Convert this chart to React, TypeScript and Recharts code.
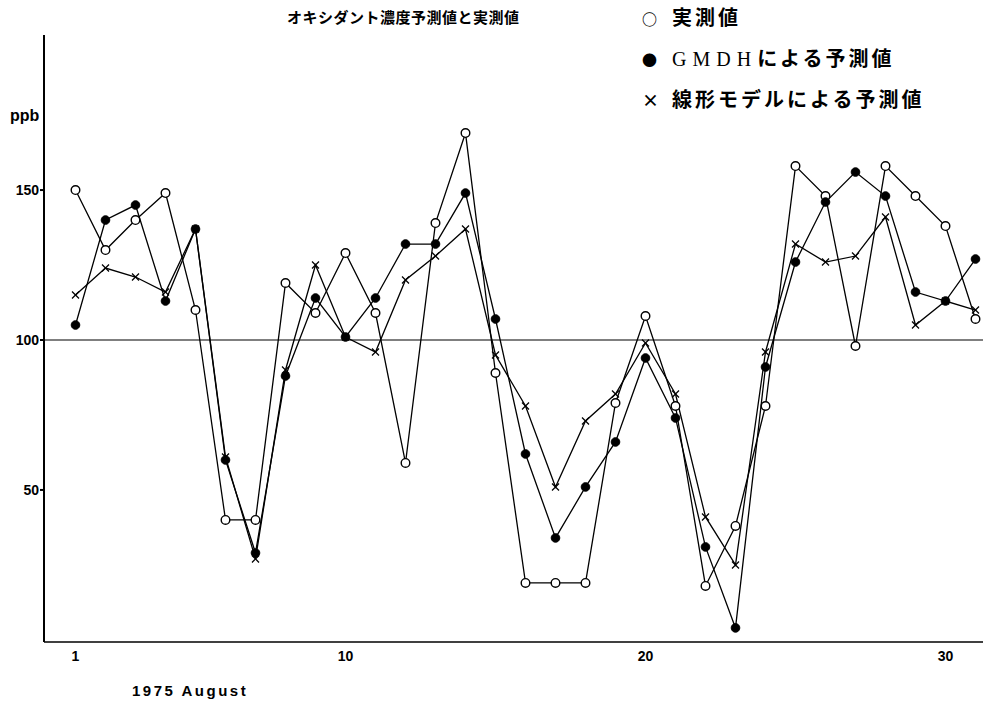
import { LineChart, Line, XAxis, YAxis, ReferenceLine } from 'recharts';

// day of month (August 1975)
const days = [
  1, 2, 3, 4, 5, 6, 7, 8, 9, 10, 11, 12, 13, 14, 15, 16, 17, 18, 19, 20, 21, 22,
  23, 24, 25, 26, 27, 28, 29, 30, 31,
];
// 実測値
const measured = [
  150, 130, 140, 149, 110, 40, 40, 119, 109, 129, 109, 59, 139, 169, 89, 19, 19,
  19, 79, 108, 78, 18, 38, 78, 158, 148, 98, 158, 148, 138, 107,
];
// GMDHによる予測値
const gmdh = [
  105, 140, 145, 113, 137, 60, 29, 88, 114, 101, 114, 132, 132, 149, 107, 62, 34,
  51, 66, 94, 74, 31, 4, 91, 126, 146, 156, 148, 116, 113, 127,
];
// 線形モデルによる予測値
const linear = [
  115, 124, 121, 116, 137, 61, 27, 90, 125, 101, 96, 120, 128, 137, 95, 78, 51,
  73, 82, 99, 82, 41, 25, 96, 132, 126, 128, 141, 105, 113, 110,
];
const xTicks = [1, 10, 20, 30];
const yTicks = [50, 100, 150];

const data = days.map((d, i) => ({
  day: d,
  measured: measured[i],
  gmdh: gmdh[i],
  linear: linear[i],
}));

const FONT = '"Liberation Sans", Arial, sans-serif';
const JP = '"Noto Sans CJK JP", "Noto Sans", sans-serif';

const OpenDot = (p: any) => {
  if (p.cx == null || p.cy == null) return null;
  return <circle key={p.key} cx={p.cx} cy={p.cy} r={4.3} fill="#fff" stroke="#000" strokeWidth={1.4} />;
};
const FilledDot = (p: any) => {
  if (p.cx == null || p.cy == null) return null;
  return <circle key={p.key} cx={p.cx} cy={p.cy} r={4.3} fill="#000" stroke="#000" />;
};
const Cross = (p: any) => {
  if (p.cx == null || p.cy == null) return null;
  const s = 3.5;
  return (
    <g key={p.key} stroke="#000" strokeWidth={1.3}>
      <line x1={p.cx - s} y1={p.cy - s} x2={p.cx + s} y2={p.cy + s} />
      <line x1={p.cx - s} y1={p.cy + s} x2={p.cx + s} y2={p.cy - s} />
    </g>
  );
};

const markerStyle = { display: 'inline-block', width: 30, letterSpacing: 0 };

const App = () => {
  return (
    <div style={{ position: 'absolute', left: 0, top: 0, width: 999, height: 711, background: '#fff' }}>
      <LineChart
        width={999}
        height={711}
        data={data}
        margin={{ top: 35, right: 16, bottom: 0, left: 0 }}
      >
        <XAxis
          dataKey="day"
          type="number"
          domain={[-0.05, 31.25]}
          ticks={xTicks}
          allowDataOverflow
          stroke="#000"
          strokeWidth={1.5}
          tickLine={false}
          height={69}
          tickMargin={3}
          tick={{ fill: '#000', fontSize: 14, fontWeight: 700, fontFamily: FONT }}
        />
        <YAxis
          type="number"
          domain={[-0.7, 201.7]}
          ticks={yTicks}
          allowDataOverflow
          stroke="#000"
          strokeWidth={2}
          width={44}
          tickSize={4}
          tickMargin={1}
          tick={{ fill: '#000', fontSize: 14, fontWeight: 700, fontFamily: FONT }}
        />
        <ReferenceLine y={100} stroke="#000" strokeWidth={1.2} />
        <Line
          dataKey="measured"
          stroke="#000"
          strokeWidth={1.3}
          dot={OpenDot}
          activeDot={false}
          isAnimationActive={false}
        />
        <Line
          dataKey="gmdh"
          stroke="#000"
          strokeWidth={1.3}
          dot={FilledDot}
          activeDot={false}
          isAnimationActive={false}
        />
        <Line
          dataKey="linear"
          stroke="#000"
          strokeWidth={1.3}
          dot={Cross}
          activeDot={false}
          isAnimationActive={false}
        />
      </LineChart>

      <div style={{ position: 'absolute', left: 287, top: 6, fontFamily: JP, fontSize: 15, fontWeight: 700, letterSpacing: 0.5 }}>
        オキシダント濃度予測値と実測値
      </div>
      <div style={{ position: 'absolute', left: 642, top: -3, fontFamily: JP, fontSize: 20, fontWeight: 700, lineHeight: '39px', letterSpacing: 3, whiteSpace: 'nowrap' }}>
        <div><span style={{ ...markerStyle, fontSize: 15 }}>○</span>実測値</div>
        <div><span style={{ ...markerStyle, fontSize: 15 }}>●</span><span style={{ letterSpacing: 6, fontFamily: '"Liberation Serif", serif', fontWeight: 400, fontSize: 20 }}>GMDH</span>による予測値</div>
        <div><span style={{ ...markerStyle, fontSize: 17 }}>×</span>線形モデルによる予測値</div>
      </div>
      <div style={{ position: 'absolute', left: 10, top: 107, fontFamily: FONT, fontSize: 16, fontWeight: 700 }}>
        ppb
      </div>
      <div style={{ position: 'absolute', left: 132, top: 682, fontFamily: FONT, fontSize: 15, fontWeight: 700, letterSpacing: 2.5 }}>
        1975 August
      </div>
    </div>
  );
};

export default App;
